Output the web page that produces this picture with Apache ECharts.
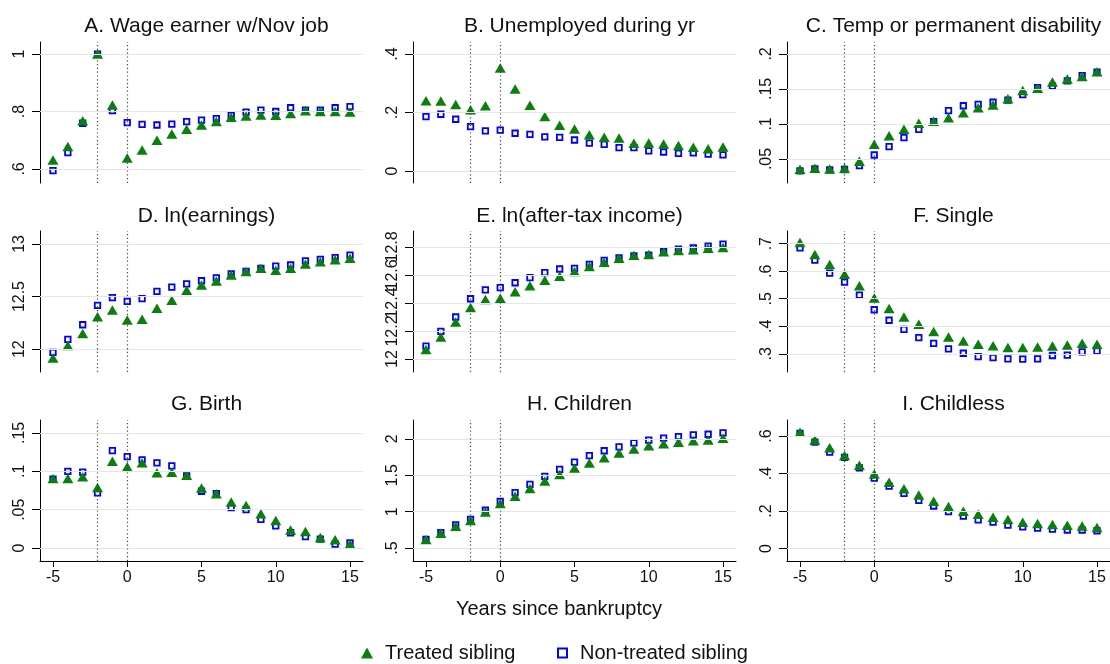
<!DOCTYPE html>
<html>
<head>
<meta charset="utf-8">
<script src="https://cdn.jsdelivr.net/npm/echarts@6/dist/echarts.min.js"></script>
<style>
html,body{margin:0;padding:0;background:#fff;}
#chart{width:1110px;height:664px;}
</style>
</head>
<body>
<div id="chart"></div>
<script>
// ---------- DATA ----------
const years = [-5,-4,-3,-2,-1,0,1,2,3,4,5,6,7,8,9,10,11,12,13,14,15];
const xTicks = [-5, 0, 5, 10, 15];
const eventLines = [-2, 0];

const panelTitles = [
  'A. Wage earner w/Nov job', 'B. Unemployed during yr', 'C. Temp or permanent disability',
  'D. ln(earnings)', 'E. ln(after-tax income)', 'F. Single',
  'G. Birth', 'H. Children', 'I. Childless'
];
const seriesNames = ['Treated sibling', 'Non-treated sibling'];
const xLabelTitle = 'Years since bankruptcy';

// A. Wage earner w/Nov job
const wageTreated = [0.631,0.678,0.768,1.0,0.823,0.638,0.666,0.700,0.722,0.738,0.753,0.765,0.780,0.784,0.788,0.787,0.793,0.803,0.800,0.800,0.798];
const wageControl = [0.594,0.657,0.759,1.0,0.803,0.761,0.755,0.753,0.756,0.765,0.770,0.775,0.787,0.798,0.805,0.800,0.813,0.805,0.805,0.813,0.817];
// B. Unemployed during yr
const unempTreated = [0.240,0.239,0.227,0.209,0.223,0.352,0.280,0.225,0.186,0.156,0.144,0.124,0.115,0.113,0.095,0.096,0.092,0.087,0.081,0.076,0.082];
const unempControl = [0.186,0.194,0.177,0.152,0.137,0.140,0.129,0.125,0.117,0.115,0.106,0.095,0.091,0.080,0.080,0.069,0.065,0.060,0.062,0.058,0.055];
// C. Temp or permanent disability
const disabTreated = [0.0353,0.0367,0.0357,0.0367,0.0467,0.071,0.083,0.0924,0.101,0.104,0.109,0.116,0.123,0.127,0.136,0.1476,0.151,0.160,0.164,0.1676,0.1747];
const disabControl = [0.033,0.0357,0.0343,0.035,0.0404,0.0557,0.0676,0.0804,0.0924,0.1033,0.119,0.126,0.128,0.131,0.134,0.142,0.152,0.154,0.1614,0.169,0.174];
// D. ln(earnings)
const earnTreated = [11.915,12.034,12.15,12.307,12.373,12.276,12.285,12.389,12.464,12.56,12.61,12.648,12.705,12.737,12.77,12.75,12.77,12.81,12.83,12.85,12.865];
const earnControl = [11.97,12.094,12.232,12.417,12.49,12.455,12.48,12.55,12.59,12.62,12.65,12.677,12.715,12.74,12.768,12.79,12.80,12.84,12.853,12.87,12.893];
// E. ln(after-tax income)
const incTreated = [12.068,12.158,12.264,12.367,12.424,12.433,12.48,12.522,12.562,12.591,12.624,12.66,12.69,12.718,12.741,12.746,12.765,12.774,12.78,12.79,12.795];
const incControl = [12.092,12.198,12.30,12.43,12.494,12.51,12.544,12.58,12.617,12.642,12.647,12.675,12.703,12.722,12.736,12.74,12.765,12.784,12.793,12.805,12.82];
// F. Single
const singleTreated = [0.704,0.661,0.624,0.589,0.547,0.503,0.465,0.434,0.407,0.381,0.361,0.347,0.335,0.329,0.323,0.323,0.325,0.328,0.332,0.338,0.335];
const singleControl = [0.685,0.640,0.593,0.560,0.513,0.460,0.422,0.389,0.359,0.338,0.318,0.302,0.290,0.286,0.282,0.281,0.282,0.294,0.295,0.307,0.310];
// G. Birth
const birthTreated = [0.0905,0.0905,0.093,0.079,0.113,0.106,0.111,0.098,0.0987,0.095,0.0784,0.0707,0.060,0.0556,0.0448,0.036,0.0237,0.0216,0.0138,0.0108,0.0052];
const birthControl = [0.0897,0.100,0.099,0.072,0.127,0.119,0.115,0.111,0.107,0.094,0.074,0.071,0.0526,0.050,0.0375,0.029,0.020,0.015,0.0116,0.0052,0.0069];
// H. Children
const childTreated = [0.618,0.704,0.80,0.878,0.995,1.113,1.213,1.317,1.423,1.509,1.60,1.67,1.742,1.805,1.86,1.905,1.932,1.955,1.973,1.986,2.009];
const childControl = [0.618,0.713,0.82,0.894,1.02,1.14,1.262,1.376,1.484,1.58,1.68,1.77,1.837,1.89,1.946,1.982,2.009,2.032,2.054,2.063,2.081];
// I. Childless
const nochildTreated = [0.620,0.579,0.537,0.496,0.444,0.398,0.354,0.319,0.285,0.252,0.224,0.199,0.183,0.167,0.155,0.141,0.134,0.129,0.125,0.120,0.113];
const nochildControl = [0.614,0.567,0.514,0.486,0.430,0.375,0.333,0.294,0.257,0.227,0.197,0.173,0.153,0.141,0.125,0.116,0.109,0.104,0.099,0.099,0.095];

// y tick values per panel
const yTicksA = [0.6, 0.8, 1];
const yTicksB = [0, 0.2, 0.4];
const yTicksC = [0.05, 0.1, 0.15, 0.2];
const yTicksD = [12, 12.5, 13];
const yTicksE = [12, 12.2, 12.4, 12.6, 12.8];
const yTicksF = [0.3, 0.4, 0.5, 0.6, 0.7];
const yTicksG = [0, 0.05, 0.1, 0.15];
const yTicksH = [0.5, 1, 1.5, 2];
const yTicksI = [0, 0.2, 0.4, 0.6];

// ---------- LAYOUT / STYLE ----------
const panels = [
  {t: wageTreated, c: wageControl, ticks: yTicksA, min: 0.551, max: 1.042},
  {t: unempTreated, c: unempControl, ticks: yTicksB, min: -0.041, max: 0.441},
  {t: disabTreated, c: disabControl, ticks: yTicksC, min: 0.0157, max: 0.217},
  {t: earnTreated, c: earnControl, ticks: yTicksD, min: 11.783, max: 13.123},
  {t: incTreated, c: incControl, ticks: yTicksE, min: 11.908, max: 12.913},
  {t: singleTreated, c: singleControl, ticks: yTicksF, min: 0.234, max: 0.746},
  {t: birthTreated, c: birthControl, ticks: yTicksG, min: -0.0168, max: 0.1668},
  {t: childTreated, c: childControl, ticks: yTicksH, min: 0.323, max: 2.259},
  {t: nochildTreated, c: nochildControl, ticks: yTicksI, min: -0.066, max: 0.685}
];
const colLeft = [40, 413, 787];
const gridW = 323;
const rowTop = [42, 231, 420];
const gridH = 141;
const titleY = [24, 214, 402];
const GREEN = '#0b7f0b';
const BLUE = '#0000ff';
const FONT = '"Liberation Sans", Arial, Helvetica, sans-serif';

function stataFmt(v) {
  let s = String(+(+v).toFixed(4));
  if (s.startsWith('0.')) s = s.slice(1);
  else if (s.startsWith('-0.')) s = '-' + s.slice(2);
  return s;
}

const grid = [], xAxis = [], yAxis = [], series = [], titles = [];
panels.forEach((p, i) => {
  const r = Math.floor(i / 3), c = i % 3;
  const bottomRow = r === 2;
  grid.push({left: colLeft[c], top: rowTop[r], width: gridW, height: gridH, containLabel: false});
  titles.push({
    text: panelTitles[i], left: colLeft[c] + gridW / 2, top: titleY[r] - 13, textAlign: 'center',
    textStyle: {fontFamily: FONT, fontSize: 21, fontWeight: 'normal', color: '#111'}
  });
  xAxis.push({
    type: 'value', gridIndex: i, min: -5.875, max: 15.875,
    axisLine: {show: bottomRow, onZero: false, lineStyle: {color: '#000', width: 1}},
    axisTick: {show: bottomRow, customValues: xTicks, length: 6, lineStyle: {color: '#000'}},
    axisLabel: {show: bottomRow, customValues: xTicks, margin: 9, fontFamily: FONT, fontSize: 16, color: '#111',
                showMinLabel: true, showMaxLabel: true, hideOverlap: false},
    splitLine: {show: false}
  });
  // two overlaid y axes per panel (even / odd ticks) so that crowded labels are all drawn
  const evenTicks = p.ticks.filter((v, k) => k % 2 === 0);
  const oddTicks = p.ticks.filter((v, k) => k % 2 === 1);
  [evenTicks, oddTicks].forEach((tk, j) => {
    yAxis.push({
      type: 'value', gridIndex: i, min: p.min, max: p.max, position: 'left', offset: 0,
      axisLine: {show: j === 0, onZero: false, lineStyle: {color: '#000', width: 1}},
      axisTick: {show: true, customValues: tk, length: 8, lineStyle: {color: '#000'}},
      axisLabel: {show: true, customValues: tk, rotate: 90, margin: 12, fontFamily: FONT, fontSize: 16, color: '#111',
                  showMinLabel: true, showMaxLabel: true, hideOverlap: false, formatter: stataFmt},
      splitLine: {show: false}
    });
  });
  const yIdx = 2 * i;
  // gridlines & event lines (reference lines)
  const ml = [];
  p.ticks.forEach(v => ml.push({yAxis: v, lineStyle: {color: '#e6e6e6', width: 1.2, type: 'solid'}}));
  eventLines.forEach(v => ml.push({xAxis: v, lineStyle: {color: '#444', width: 1.2, type: [1.2, 2.6]}}));
  series.push({
    type: 'scatter', xAxisIndex: i, yAxisIndex: yIdx, data: [[years[0], p.c[0]]], symbolSize: 0, silent: true, z: 1,
    markLine: {silent: true, symbol: 'none', label: {show: false}, animation: false, data: ml}
  });
  series.push({
    name: seriesNames[1], type: 'scatter', xAxisIndex: i, yAxisIndex: yIdx, z: 3,
    data: years.map((x, k) => [x, p.c[k]]),
    symbol: 'rect', symbolSize: 5.5,
    itemStyle: {color: '#fff', borderColor: BLUE, borderWidth: 1.8, opacity: 1}
  });
  series.push({
    name: seriesNames[0], type: 'scatter', xAxisIndex: i, yAxisIndex: yIdx, z: 4,
    data: years.map((x, k) => [x, p.t[k]]),
    symbol: 'triangle', symbolSize: [11, 9.5],
    itemStyle: {color: GREEN, opacity: 1}
  });
});

const chart = echarts.init(document.getElementById('chart'), null, {renderer: 'canvas'});
chart.setOption({
  backgroundColor: '#fff',
  animation: false,
  title: titles,
  grid, xAxis, yAxis, series,
  legend: [
    {data: [seriesNames[0]], left: 356, top: 638, icon: 'triangle', itemWidth: 12, itemHeight: 11,
     selectedMode: false, textStyle: {fontFamily: FONT, fontSize: 20, color: '#111', padding: [0, 0, 0, 7]}},
    {data: [seriesNames[1]], left: 552, top: 638, icon: 'rect', itemWidth: 9, itemHeight: 9,
     selectedMode: false, textStyle: {fontFamily: FONT, fontSize: 20, color: '#111', padding: [0, 0, 0, 8]}}
  ],
  graphic: [{
    type: 'text', x: 559, y: 599,
    style: {text: xLabelTitle, fontFamily: FONT, fontSize: 20, fill: '#111', align: 'center'}
  }]
});
</script>
</body>
</html>
